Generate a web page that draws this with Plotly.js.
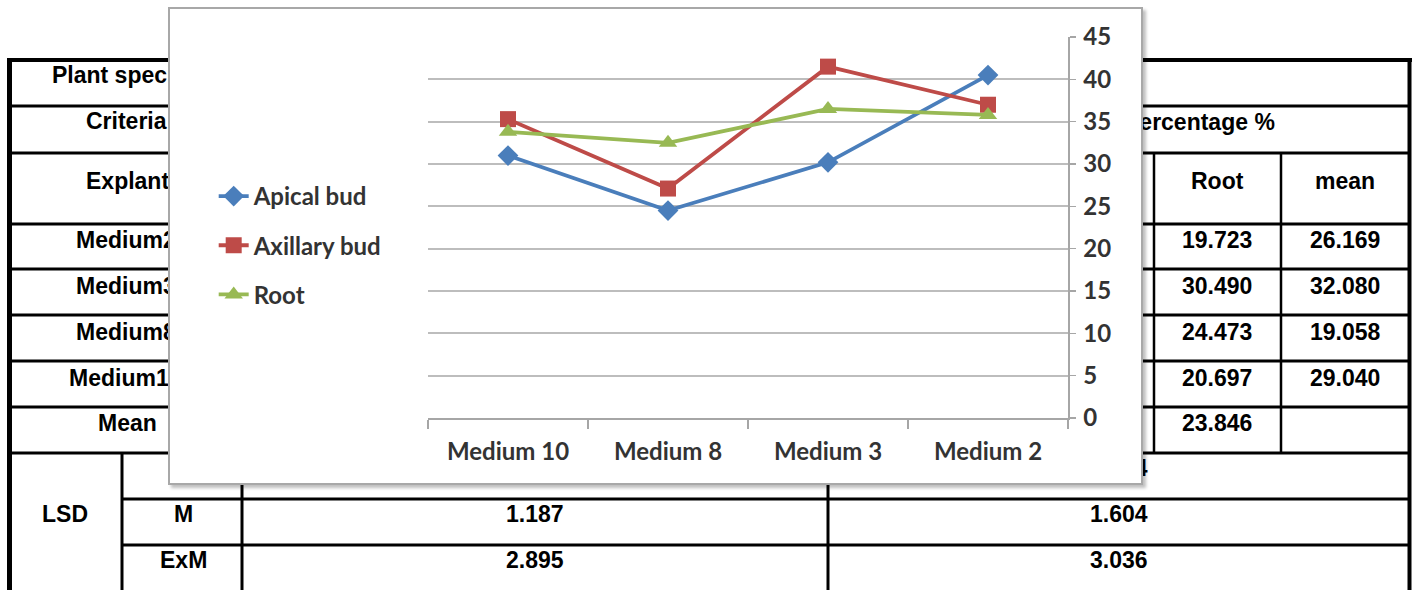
<!DOCTYPE html>
<html><head><meta charset="utf-8">
<script src="https://cdn.plot.ly/plotly-3.0.1.min.js"></script>
<style>
html,body{margin:0;padding:0;background:#fff;width:1416px;height:590px;overflow:hidden;}
#table{position:absolute;left:0;top:0;width:1416px;height:590px;}
#chart{position:absolute;left:168px;top:7px;width:971px;height:474px;background:#fff;border:2px solid #a8a8a8;box-shadow:3px 3px 3px rgba(0,0,0,0.25);}
</style></head>
<body>
<div id="table"></div>
<div id="chart"></div>
<script>
// ---- chart data ----
const categories = ["Medium 10", "Medium 8", "Medium 3", "Medium 2"];
const apicalBud = [31.0, 24.5, 30.2, 40.5];
const axillaryBud = [35.3, 27.1, 41.5, 37.0];
const rootVals = [33.8, 32.5, 36.5, 35.8];
const yTicks = [0, 5, 10, 15, 20, 25, 30, 35, 40, 45];

// ---- background table text ----
const rowLabels = ["Plant species", "Criteria", "Explant", "Medium2", "Medium3", "Medium8", "Medium10", "Mean"];
const headerRight = ["Percentage %", "Root", "mean"];
const rootCol = ["19.723", "30.490", "24.473", "20.697", "23.846"];
const meanCol = ["26.169", "32.080", "19.058", "29.040", ""];
const lsdLabels = ["LSD", "E", "M", "ExM"];
const lsdLeft = ["", "1.187", "2.895"];
const lsdRight = ["0.934", "1.604", "3.036"];

// ---------- table (background) ----------
const shapes = [];
function ln(x0,y0,x1,y1,w){shapes.push({type:'line',xref:'x',yref:'y',x0:x0,y0:y0,x1:x1,y1:y1,line:{color:'#000',width:w}});}
ln(7,60,1412,60,4);
ln(9.5,58,9.5,590,5);
ln(1409.5,58,1409.5,590,4);
[106,153,224,269,315,361,407,453].forEach(y=>ln(8,y,1411,y,3));
[499,545].forEach(y=>ln(122,y,1411,y,3));
[122,242,828].forEach(x=>ln(x,453,x,590,3));
[1154,1281].forEach(x=>ln(x,153,x,453,2.5));

const ann = [];
const tf = {family:'"Liberation Sans", Arial, sans-serif', size:23, color:'#000'};
function tx(t,x,y,anchor){ann.push({text:'<b>'+t+'</b>',x:x,y:y,xref:'x',yref:'y',showarrow:false,xanchor:anchor||'center',yanchor:'middle',font:tf});}
const labelX = [50,84,84,74,74,74,67,96];
const labelY = [75,121,181,240,286,332,378,423];
rowLabels.forEach((t,i)=>tx(t,labelX[i],labelY[i],'left'));
tx(headerRight[0],1122,122,'left');
tx(headerRight[1],1217,181);
tx(headerRight[2],1345,181);
rootCol.forEach((t,i)=>tx(t,1217,labelY[3+i]));
meanCol.forEach((t,i)=>{if(t)tx(t,1345,labelY[3+i]);});
tx(lsdLabels[0],65,514);
tx(lsdLabels[1],183,468);
tx(lsdLabels[2],183,514);
tx(lsdLabels[3],183,560);
const lsdY=[468,514,560];
lsdLeft.forEach((t,i)=>{if(t)tx(t,535,lsdY[i]);});
lsdRight.forEach((t,i)=>tx(t,1119,lsdY[i]));

Plotly.newPlot('table',[],{
  width:1416,height:590,margin:{l:0,r:0,t:0,b:0},
  paper_bgcolor:'rgba(0,0,0,0)',plot_bgcolor:'rgba(0,0,0,0)',
  xaxis:{range:[0,1416],visible:false,fixedrange:true},
  yaxis:{range:[590,0],visible:false,fixedrange:true},
  shapes:shapes,annotations:ann,showlegend:false
},{staticPlot:true,displayModeBar:false});

// ---------- line chart ----------
const fam = 'Lato, "Open Sans", sans-serif';
const traces = [
  {name:'<b>Apical bud</b>', y:apicalBud, color:'#4a7ebb', symbol:'diamond', size:16},
  {name:'<b>Axillary bud</b>', y:axillaryBud, color:'#be4b48', symbol:'square', size:16},
  {name:'<b>Root</b>', y:rootVals, color:'#98b954', symbol:'triangle-up', size:16}
].map((s,i)=>({
  type:'scatter',mode:'lines+markers',x:categories,y:s.y,name:s.name,
  legendgroup:'g'+i,
  line:{color:s.color,width:3.8},
  marker:{color:s.color,symbol:s.symbol,size:s.size}
}));

Plotly.newPlot('chart',traces,{
  width:971,height:474,
  margin:{l:258,r:73,t:28,b:65},
  paper_bgcolor:'#fff',plot_bgcolor:'#fff',
  font:{family:fam,size:20,color:'#333'},
  showlegend:true,
  legend:{xref:'container',yref:'container',x:0.045,y:0.652,xanchor:'left',yanchor:'top',
    font:{family:fam,size:24,color:'#333'},
    tracegroupgap:15,bgcolor:'rgba(0,0,0,0)'},
  xaxis:{type:'category',showgrid:false,showline:true,linecolor:'#a6a6a6',linewidth:1.5,
    ticks:'outside',tickson:'boundaries',ticklen:9,tickcolor:'#a6a6a6',tickwidth:1.5,
    ticklabelstandoff:12,tickfont:{family:fam,size:24,color:'#333',weight:'bold'},
    range:[-0.5,3.5],fixedrange:true},
  yaxis:{side:'right',range:[0,45],tickvals:yTicks,showgrid:true,gridcolor:'#bdbdbd',gridwidth:1.8,
    showline:true,linecolor:'#a6a6a6',linewidth:1.5,ticks:'outside',ticklen:6,tickcolor:'#a6a6a6',
    tickwidth:1.5,ticklabelstandoff:3,zeroline:false,
    tickfont:{family:fam,size:24,color:'#333',weight:'bold'},fixedrange:true}
},{staticPlot:true,displayModeBar:false});
</script>
</body></html>
